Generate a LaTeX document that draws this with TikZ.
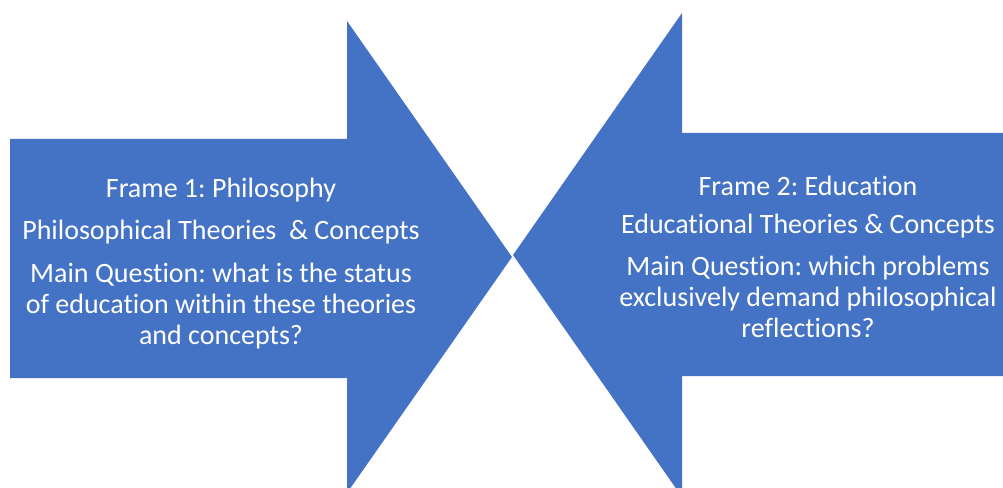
\documentclass[tikz,border=0pt]{standalone}
\usepackage{fontspec}
\setmainfont{Carlito}[Ligatures=NoCommon]
\usepackage{xcolor}
\usetikzlibrary{positioning}
\definecolor{frameblue}{HTML}{4472C4}
\frenchspacing

\begin{document}
\begin{tikzpicture}[
    x=0.75pt, y=-0.75pt,
    framearrow/.style={fill=frameblue, draw=none},
    frametext/.style={text=white, align=center, font=\fontsize{21}{23.3}\selectfont, inner sep=0pt}
]
\useasboundingbox (0,0) rectangle (1003,488);

% Left arrow (Frame 1)
\fill[framearrow] (10,139) -- (347,139) -- (347,21) -- (512,257)
    -- (347,493) -- (347,378) -- (10,378) -- cycle;

% Right arrow (Frame 2)
\fill[framearrow] (1003,133) -- (682,133) -- (682,13) -- (513,255)
    -- (682,497) -- (682,376) -- (1003,376) -- cycle;

% Frame 1 texts
\node[frametext] (philtitle) at (221,190) {Frame 1: Philosophy};
\node[frametext] (philtheory) at (221,232) {Philosophical Theories\ \ \& Concepts};
\node[frametext] (philquestion) at (221,306) {Main Question: what is the status\\ of education within these theories\\ and concepts?};

% Frame 2 texts
\node[frametext] (edutitle) at (808,186) {Frame 2: Education};
\node[frametext] (edutheory) at (808,226) {Educational Theories \& Concepts};
\node[frametext] (eduquestion) at (808,297) {Main Question: which problems\\ exclusively demand philosophical\\ reflections?};

\end{tikzpicture}
\end{document}
